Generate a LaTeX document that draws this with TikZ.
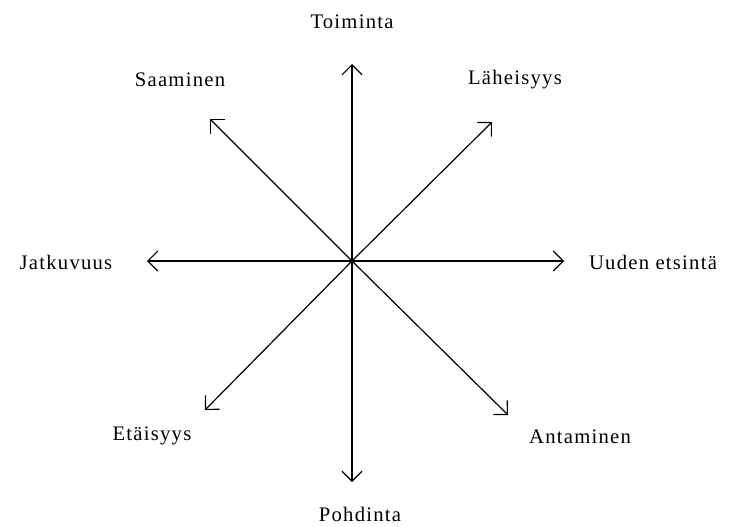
\documentclass[tikz,border=0pt]{standalone}
\usepackage{fontspec}
\setmainfont{Liberation Serif}[LetterSpace=6]
\usetikzlibrary{arrows.meta}
\begin{document}
\begin{tikzpicture}[x=0.75pt,y=-0.75pt,
  axis/.style={line width=0.9pt,-{Straight Barb[length=7.5pt,width=15pt,line width=0.9pt]}},
  lbl/.style={font=\fontsize{15.5pt}{18pt}\selectfont,inner sep=0pt}]
\useasboundingbox (0,0) rectangle (734,526);
\coordinate (c) at (352,261);
\coordinate (n) at (352,64);
\coordinate (s) at (352,482);
\coordinate (w) at (147,261);
\coordinate (e) at (564,261);
\coordinate (nw) at (210,119);
\coordinate (ne) at (492,122);
\coordinate (sw) at (205,410);
\coordinate (se) at (508,415);
\foreach \p in {n,s,w,e,nw,ne,sw,se} \draw[axis] (c) -- (\p);
\node[lbl] (tn) at (352,22) {Toiminta};
\node[lbl] (tnw) at (180,80) {Saaminen};
\node[lbl] (tne) at (515,80) {Läheisyys};
\node[lbl] (tw) at (66,262) {Jatkuvuus};
\node[lbl] (te) at (653,262) {Uuden etsintä};
\node[lbl] (tsw) at (152,436) {Etäisyys};
\node[lbl] (tse) at (580,437) {Antaminen};
\node[lbl] (ts) at (360,514) {Pohdinta};
\end{tikzpicture}
\end{document}
